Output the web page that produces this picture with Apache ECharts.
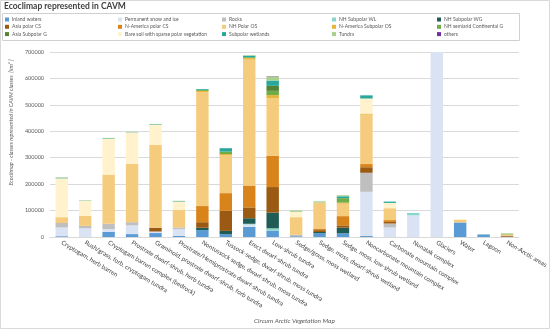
<!DOCTYPE html>
<html><head><meta charset="utf-8">
<script src="https://cdn.jsdelivr.net/npm/echarts@6/dist/echarts.min.js"></script>
<style>html,body{margin:0;padding:0;background:#fff}#c{width:550px;height:329px}</style>
</head><body><div id="c"></div>
<script>
const categories = ["Cryptogam, herb barren","Rush/grass, forb, cryptogam tundra","Cryptogam barren complex (bedrock)","Prostrate dwarf-shrub, herb tundra","Graminoid, prostrate dwarf-shrub, forb tundra","Prostrate/Hemiprostrate dwarf-shrub tundra","Nontussock sedge, dwarf-shrub, moss tundra","Tussock-sedge, dwarf-shrub, moss tundra","Erect dwarf-shrub tundra","Low-shrub tundra","Sedge/grass, moss wetland","Sedge, moss, dwarf-shrub wetland","Sedge, moss, low-shrub wetland","Noncarbonate mountain complex","Carbonate mountain complex","Nunatak complex","Glaciers","Water","Lagoon","Non-Arctic areas"];
const seriesNames = ["Inland waters","Permanent snow and ice","Rocks","NH Subpolar WL","NH Subpolar WG","Asia polar CS","N-America polar CS","NH Polar OS","N-America Subpolar OS","NH semiarid Continental G","Asia Subpolar G","Bare soil with sparse polar vegetation","Subpolar wetlands","Tundra","others"];
const inlandWaters = [3000,1000,19000,11000,15000,4000,26000,11000,38000,24000,3000,14000,14000,4000,0,0,0,55000,9000,1000];
const snowIce      = [33000,32000,11000,33000,4000,25000,0,0,9000,0,0,0,0,167000,36000,82000,1950000,0,0,0];
const rocks        = [17000,9000,20000,12000,2000,7000,0,0,0,0,5000,0,0,72000,15000,0,0,0,0,0];
const nhSubWL      = [0,0,0,0,0,0,0,0,3000,9000,0,0,0,0,0,9000,0,0,0,0];
const nhSubWG      = [0,0,0,0,0,0,9000,12000,21000,59000,0,5000,21000,0,0,0,0,0,0,0];
const asiaPolarCS  = [0,0,0,0,14000,0,21000,76000,41000,97000,0,7000,9000,21000,6000,0,0,0,0,4000];
const naPolarCS    = [0,0,0,0,0,0,61000,67000,83000,119000,0,6000,35000,12000,7000,0,0,0,0,0];
const nhPolarOS    = [22000,38000,186000,221000,313000,67000,430000,143000,476000,217000,67000,98000,47000,187000,45000,0,0,10000,0,5000];
const naSubpolarOS = [0,0,0,0,0,0,6000,5000,6000,12000,0,0,4000,4000,0,0,0,0,0,0];
const nhSemiaridG  = [0,0,0,0,0,0,4000,9000,3000,16000,0,0,17000,0,0,0,0,0,0,3000];
const asiaSubG     = [0,0,0,0,0,0,0,0,0,19000,0,0,0,0,0,0,0,0,0,0];
const bareSoil     = [147000,57000,135000,119000,76000,30000,0,0,0,0,20000,0,0,57000,20000,0,0,3000,0,0];
const subWetlands  = [2000,1000,2000,1000,2000,2000,3000,13000,6000,20000,0,0,7000,12000,5000,0,0,0,1000,0];
const tundra       = [2000,1000,2000,1000,2000,2000,0,0,2000,16000,5000,5000,4000,0,0,0,0,0,0,0];
const others       = [0,0,0,0,0,0,0,0,0,1000,0,0,0,0,0,0,0,0,0,0];
const yTicks = [0,100000,200000,300000,400000,500000,600000,700000];

const allValues = [inlandWaters,snowIce,rocks,nhSubWL,nhSubWG,asiaPolarCS,naPolarCS,nhPolarOS,naSubpolarOS,nhSemiaridG,asiaSubG,bareSoil,subWetlands,tundra,others];
const colors = ["#5b9bd5","#dae3f3","#bfbfbf","#8ad6cc","#1f5c55","#9a5a13","#d9841b","#f5cb7e","#e8b53a","#70ad47","#548235","#fff2cc","#2aa79b","#a9d18e","#7030a0"];

const FONT = 'Lato';
const colX = [5,118,222,332,437];
const rowY = [17,24.3,31.6];
const legends = seriesNames.map((n,i)=>({
  data:[n], left: colX[i%5], top: rowY[Math.floor(i/5)], orient:'horizontal',
  icon:'rect', itemWidth:4, itemHeight:4, itemGap:0, padding:0, selectedMode:false,
  textStyle:{fontSize:5, color:'#595959', fontFamily:FONT, padding:[0,0,0,-2]}
}));

const chart = echarts.init(document.getElementById('c'), null, {renderer:'canvas'});
chart.setOption({
  animation:false,
  color: colors,
  textStyle:{fontFamily:FONT},
  title:{text:'Ecoclimap represented in CAVM', left:4, top:2, padding:0,
    textStyle:{fontSize:8.5, fontWeight:'bold', color:'#404040', fontFamily:FONT}},
  legend: legends,
  graphic:[
    {type:'rect', shape:{x:0.5,y:0.5,width:549,height:328}, style:{fill:'none',stroke:'#d9d9d9',lineWidth:1}, silent:true},
    {type:'rect', shape:{x:2.5,y:13.5,width:517,height:27}, style:{fill:'none',stroke:'#d0d0d0',lineWidth:1}, silent:true}
  ],
  grid:{left:38, right:30, top:52, bottom:88, containLabel:false},
  xAxis:{type:'category', data:categories,
    axisTick:{show:false},
    axisLine:{lineStyle:{color:'#d9d9d9'}},
    axisLabel:{interval:0, rotate:-31, fontSize:6.2, color:'#404040', margin:5, fontFamily:FONT},
    name:'Circum Arctic Vegetation Map', nameLocation:'middle', nameGap:80,
    nameTextStyle:{fontSize:6.5, fontStyle:'italic', color:'#595959', fontFamily:FONT, padding:[0,0,0,20]}
  },
  yAxis:{type:'value', min:0, max:yTicks[yTicks.length-1], interval:yTicks[1]-yTicks[0],
    axisLine:{show:false}, axisTick:{show:false},
    splitLine:{lineStyle:{color:'#d9d9d9', width:1}},
    axisLabel:{fontSize:5.5, color:'#595959', margin:6, fontFamily:FONT, formatter: v => String(v)},
    name:'Ecoclimap - classes represented in CAVM classes  [km² ]', nameLocation:'middle', nameGap:31,
    nameTextStyle:{fontSize:5.5, fontStyle:'italic', color:'#595959', fontFamily:FONT, padding:[0,0,0,44]}
  },
  series: seriesNames.map((n,i)=>({
    name:n, type:'bar', stack:'total', data:allValues[i], barWidth:'53%', clip:true,
    itemStyle:{color:colors[i]}, emphasis:{disabled:true}
  }))
});
</script></body></html>
